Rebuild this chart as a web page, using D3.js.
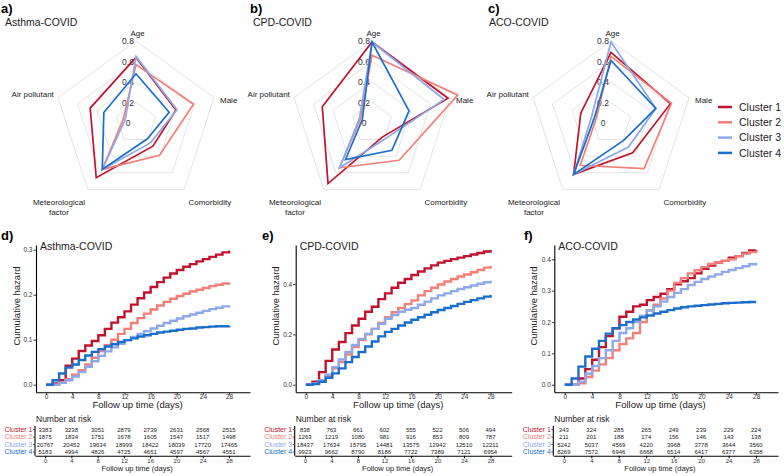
<!DOCTYPE html>
<html>
<head>
<meta charset="utf-8">
<script src="https://cdn.jsdelivr.net/npm/d3@7"></script>
<style>
body { margin: 0; background: #fff; }
svg { font-family: "Liberation Sans", Arial, sans-serif; }
</style>
</head>
<body>
<div id="main"></div>
<script>
const clusters = ["Cluster 1", "Cluster 2", "Cluster 3", "Cluster 4"];
const colors = ["#c0132f", "#f27f78", "#8fa8ea", "#1b6fcb"];
const radarAxes = ["Age", "Male", "Comorbidity", "Meteorological factor", "Air pollutant"];
const radarTicks = [0, 0.2, 0.4, 0.6, 0.8];

// radar values, one row per cluster, in radarAxes order
const radarAsthma = [
  [0.64, 0.41, 0.28, 0.66, 0.47],
  [0.57, 0.59, 0.39, 0.56, 0.13],
  [0.65, 0.42, 0.24, 0.56, 0.11],
  [0.48, 0.34, 0.19, 0.56, 0.33]
];
const radarCPD = [
  [0.79, 0.78, 0.17, 0.73, 0.51],
  [0.66, 0.88, 0.45, 0.54, 0.12],
  [0.79, 0.74, 0.20, 0.54, 0.13],
  [0.79, 0.38, 0.33, 0.44, 0.10]
];
const radarACO = [
  [0.69, 0.61, 0.36, 0.62, 0.31],
  [0.65, 0.62, 0.55, 0.51, 0.15],
  [0.79, 0.46, 0.29, 0.62, 0.20],
  [0.61, 0.46, 0.21, 0.62, 0.17]
];

// cumulative hazard at day 0..28
const days = d3.range(0, 29);
const kmAsthma = [
  [0, 0.003, 0.01, 0.042, 0.058, 0.075, 0.087, 0.097, 0.11, 0.124, 0.138, 0.15, 0.163, 0.178, 0.192, 0.205, 0.217, 0.228, 0.238, 0.247, 0.255, 0.262, 0.268, 0.274, 0.279, 0.284, 0.289, 0.294, 0.298],
  [0, 0, 0.005, 0.012, 0.022, 0.032, 0.045, 0.06, 0.075, 0.088, 0.1, 0.113, 0.124, 0.137, 0.148, 0.158, 0.167, 0.176, 0.184, 0.191, 0.197, 0.202, 0.207, 0.211, 0.215, 0.219, 0.222, 0.225, 0.227],
  [0, 0, 0.004, 0.01, 0.018, 0.028, 0.04, 0.052, 0.064, 0.074, 0.083, 0.091, 0.099, 0.106, 0.113, 0.119, 0.125, 0.131, 0.137, 0.142, 0.147, 0.152, 0.156, 0.16, 0.164, 0.168, 0.171, 0.174, 0.176],
  [0, 0.01, 0.025, 0.038, 0.045, 0.055, 0.065, 0.073, 0.079, 0.085, 0.09, 0.095, 0.099, 0.103, 0.107, 0.11, 0.113, 0.116, 0.118, 0.12, 0.122, 0.124, 0.125, 0.127, 0.128, 0.129, 0.13, 0.13, 0.131]
];
const kmCPD = [
  [0, 0.012, 0.05, 0.095, 0.14, 0.17, 0.205, 0.235, 0.262, 0.29, 0.31, 0.34, 0.363, 0.385, 0.405, 0.42, 0.436, 0.45, 0.462, 0.474, 0.485, 0.492, 0.499, 0.505, 0.511, 0.517, 0.523, 0.529, 0.535],
  [0, 0.005, 0.015, 0.035, 0.065, 0.09, 0.12, 0.15, 0.178, 0.2, 0.222, 0.245, 0.268, 0.288, 0.305, 0.32, 0.335, 0.355, 0.372, 0.385, 0.398, 0.41, 0.42, 0.43, 0.438, 0.447, 0.456, 0.465, 0.473],
  [0, 0.005, 0.018, 0.04, 0.07, 0.1, 0.13, 0.158, 0.182, 0.202, 0.222, 0.242, 0.262, 0.277, 0.29, 0.298, 0.305, 0.318, 0.33, 0.343, 0.355, 0.363, 0.372, 0.38, 0.387, 0.394, 0.401, 0.407, 0.413],
  [0, 0.003, 0.012, 0.028, 0.045, 0.065, 0.09, 0.11, 0.13, 0.152, 0.172, 0.192, 0.21, 0.222, 0.235, 0.247, 0.258, 0.268, 0.278, 0.288, 0.297, 0.305, 0.313, 0.321, 0.329, 0.336, 0.343, 0.35, 0.356]
];
const kmACO = [
  [0, 0, 0.02, 0.05, 0.08, 0.12, 0.155, 0.18, 0.217, 0.233, 0.25, 0.255, 0.27, 0.28, 0.29, 0.305, 0.32, 0.33, 0.34, 0.355, 0.37, 0.38, 0.39, 0.395, 0.405, 0.41, 0.42, 0.428, 0.43],
  [0, 0, 0.005, 0.025, 0.045, 0.065, 0.085, 0.11, 0.13, 0.148, 0.165, 0.2, 0.238, 0.255, 0.275, 0.3, 0.325, 0.34, 0.355, 0.365, 0.375, 0.385, 0.39, 0.395, 0.4, 0.41, 0.418, 0.423, 0.428],
  [0, 0, 0.01, 0.035, 0.06, 0.085, 0.11, 0.14, 0.165, 0.18, 0.2, 0.22, 0.237, 0.25, 0.265, 0.28, 0.293, 0.305, 0.318, 0.328, 0.337, 0.345, 0.352, 0.36, 0.366, 0.372, 0.378, 0.384, 0.389],
  [0, 0.02, 0.058, 0.09, 0.115, 0.14, 0.163, 0.18, 0.19, 0.2, 0.208, 0.215, 0.221, 0.227, 0.233, 0.238, 0.243, 0.247, 0.25, 0.252, 0.254, 0.256, 0.258, 0.26, 0.261, 0.262, 0.263, 0.264, 0.264]
];

// number at risk
const riskDays = [0, 4, 8, 12, 16, 20, 24, 28];
const riskAsthma = [
  [3383, 3238, 3051, 2879, 2739, 2631, 2568, 2515],
  [1875, 1834, 1751, 1678, 1605, 1547, 1517, 1498],
  [20767, 20452, 19634, 18999, 18422, 18039, 17720, 17465],
  [5183, 4994, 4826, 4725, 4651, 4597, 4567, 4551]
];
const riskCPD = [
  [838, 763, 661, 602, 555, 522, 506, 494],
  [1263, 1219, 1080, 981, 916, 853, 809, 787],
  [18437, 17634, 15795, 14481, 13575, 12942, 12510, 12211],
  [9923, 9662, 8790, 8186, 7722, 7389, 7121, 6954]
];
const riskACO = [
  [343, 324, 285, 265, 249, 239, 229, 224],
  [211, 201, 188, 174, 156, 146, 143, 138],
  [5242, 5037, 4569, 4220, 3968, 3778, 3644, 3560],
  [8269, 7572, 6946, 6668, 6514, 6417, 6377, 6358]
];

const width = 784, height = 476;
const svg = d3.select("#main").append("svg")
  .attr("width", width)
  .attr("height", height);

// ---------- radar charts ----------
const R = 82;
const rScale = d3.scaleLinear().domain([0, 0.8]).range([0, R]);
const angle = i => i * 2 * Math.PI / radarAxes.length;
// label offsets, in units of R
const labelPos = [[0.02, -1.1], [1.13, -0.28], [0.9, 0.96], [-0.94, 0.96], [-1.26, -0.35]];

const radarPanels = [
  {letter: "a)", title: "Asthma-COVID", lx: 1, tx: 5, cx: 136, data: radarAsthma},
  {letter: "b)", title: "CPD-COVID", lx: 250, tx: 253, cx: 372, data: radarCPD},
  {letter: "c)", title: "ACO-COVID", lx: 488, tx: 489, cx: 611, data: radarACO}
];

radarPanels.forEach(p => {
  const cy = 123;
  svg.append("text").attr("x", p.lx).attr("y", 13)
    .attr("font-size", 13).attr("font-weight", "bold").text(p.letter);
  svg.append("text").attr("x", p.tx).attr("y", 25.5)
    .attr("font-size", 10.5).attr("fill", "#222").text(p.title);

  const g = svg.append("g").attr("transform", `translate(${p.cx},${cy})`);

  const ring = d3.lineRadial()
    .angle((d, i) => angle(i))
    .radius(d => rScale(d))
    .curve(d3.curveLinearClosed);

  g.selectAll(".grid")
    .data(radarTicks.slice(1))
    .enter()
    .append("path")
    .attr("d", v => ring(radarAxes.map(() => v)))
    .attr("fill", "none")
    .attr("stroke", "#dcdcdc")
    .attr("stroke-width", 0.8);

  g.selectAll(".tick")
    .data(radarTicks)
    .enter()
    .append("text")
    .attr("x", -8)
    .attr("y", v => -rScale(v) + 3.2)
    .attr("text-anchor", "middle")
    .attr("font-size", 8.5)
    .attr("fill", "#333")
    .text(v => v === 0 ? "0" : v.toFixed(1));

  g.selectAll(".series")
    .data(p.data)
    .enter()
    .append("path")
    .attr("d", d => ring(d))
    .attr("fill", "none")
    .attr("stroke", (d, i) => colors[i])
    .attr("stroke-width", 1.7);

  radarAxes.forEach((name, i) => {
    const t = g.append("text")
      .attr("x", labelPos[i][0] * R)
      .attr("y", labelPos[i][1] * R + 3)
      .attr("text-anchor", "middle")
      .attr("font-size", 8)
      .attr("fill", "#222");
    if (name === "Meteorological factor") {
      t.append("tspan").attr("x", labelPos[i][0] * R).text("Meteorological");
      t.append("tspan").attr("x", labelPos[i][0] * R).attr("dy", 10.5).text("factor");
    } else {
      t.text(name);
    }
  });
});

// legend
const legend = svg.append("g").attr("transform", "translate(718,107)");
clusters.forEach((c, i) => {
  legend.append("line")
    .attr("x1", 0).attr("x2", 14)
    .attr("y1", i * 15.3).attr("y2", i * 15.3)
    .attr("stroke", colors[i]).attr("stroke-width", 2.5);
  legend.append("text")
    .attr("x", 21).attr("y", i * 15.3 + 3.8)
    .attr("font-size", 10.5).attr("fill", "#222")
    .text(c);
});

// ---------- cumulative hazard ----------
const kmTop = 245, kmBottom = 392.3;
const xDomain = [-1.54, 31.2];
const kmPanels = [
  {letter: "d)", lx: 1, title: "Asthma-COVID", left: 36, right: 250, yDom: [-0.0169, 0.3104], yTicks: [0, 0.1, 0.2, 0.3], ylabX: 16, data: kmAsthma, risk: riskAsthma},
  {letter: "e)", lx: 262, title: "CPD-COVID", left: 295.7, right: 511.7, yDom: [-0.030, 0.555], yTicks: [0, 0.2, 0.4], ylabX: 275, data: kmCPD, risk: riskCPD},
  {letter: "f)", lx: 524, title: "ACO-COVID", left: 554.3, right: 778, yDom: [-0.024, 0.4456], yTicks: [0, 0.1, 0.2, 0.3, 0.4], ylabX: 533, data: kmACO, risk: riskACO}
];

kmPanels.forEach(p => {
  const x = d3.scaleLinear().domain(xDomain).range([p.left, p.right]);
  const y = d3.scaleLinear().domain(p.yDom).range([kmBottom, kmTop]);

  svg.append("text").attr("x", p.lx).attr("y", 239.5)
    .attr("font-size", 13).attr("font-weight", "bold").text(p.letter);

  const yAxis = svg.append("g")
    .attr("transform", `translate(${p.left},0)`)
    .call(d3.axisLeft(y).tickValues(p.yTicks).tickFormat(d3.format(".1f")).tickSize(2.5).tickSizeOuter(0));
  const xAxis = svg.append("g")
    .attr("transform", `translate(0,${kmBottom})`)
    .call(d3.axisBottom(x).tickValues(riskDays).tickSize(2.5).tickSizeOuter(0));
  [yAxis, xAxis].forEach(a => {
    a.selectAll("text").attr("font-size", 6.5).attr("fill", "#333").attr("font-family", null);
    a.select(".domain").attr("stroke-width", 1.1);
    a.selectAll(".tick line").attr("stroke", "#333");
  });
  yAxis.selectAll("text").attr("x", -3.5);
  xAxis.selectAll("text").attr("y", 2.2);

  const line = d3.line()
    .x((d, i) => x(days[i]))
    .y(d => y(d))
    .curve(d3.curveStepAfter);

  svg.append("g").selectAll("path")
    .data(p.data)
    .enter()
    .append("path")
    .attr("d", d => line(d))
    .attr("fill", "none")
    .attr("stroke", (d, i) => colors[i])
    .attr("stroke-width", 2.4);

  svg.append("text").attr("x", p.left + 4).attr("y", 250)
    .attr("font-size", 10.5).attr("fill", "#222").text(p.title);

  svg.append("text")
    .attr("transform", `translate(${p.ylabX},306) rotate(-90)`)
    .attr("text-anchor", "middle")
    .attr("dominant-baseline", "central")
    .attr("font-size", 9.5).attr("fill", "#222")
    .text("Cumulative hazard");

  svg.append("text")
    .attr("x", (x(0) + x(28)) / 2).attr("y", 408)
    .attr("text-anchor", "middle")
    .attr("font-size", 9.5).attr("fill", "#222")
    .text("Follow up time (days)");

  // risk table
  const tLeft = p.left - 1;
  const tBottom = 455.8;
  const rowY = d3.scalePoint().domain(clusters).range([429.6, 452]);

  svg.append("text").attr("x", tLeft + 1).attr("y", 421.5)
    .attr("font-size", 8.5).attr("fill", "#222").text("Number at risk");

  svg.append("line")
    .attr("x1", tLeft).attr("x2", tLeft)
    .attr("y1", 426).attr("y2", tBottom)
    .attr("stroke", "#000").attr("stroke-width", 1.1);

  const tx = d3.scaleLinear().domain(xDomain).range([tLeft, p.right]);
  const tAxis = svg.append("g")
    .attr("transform", `translate(0,${tBottom})`)
    .call(d3.axisBottom(tx).tickValues(riskDays).tickSize(2.5).tickSizeOuter(0));
  tAxis.selectAll("text").attr("font-size", 6).attr("fill", "#333").attr("y", 3).attr("font-family", null);
  tAxis.select(".domain").attr("stroke-width", 1.1);

  clusters.forEach((c, i) => {
    svg.append("line")
      .attr("x1", tLeft - 2).attr("x2", tLeft)
      .attr("y1", rowY(c)).attr("y2", rowY(c))
      .attr("stroke", "#333").attr("stroke-width", 0.8);
    svg.append("text")
      .attr("x", tLeft - 2.5).attr("y", rowY(c) + 2.4)
      .attr("text-anchor", "end")
      .attr("font-size", 7).attr("fill", colors[i])
      .text(c);
    svg.append("g").selectAll("text")
      .data(p.risk[i])
      .enter()
      .append("text")
      .attr("x", (d, j) => tx(riskDays[j]))
      .attr("y", rowY(c) + 2.2)
      .attr("text-anchor", "middle")
      .attr("font-size", 6).attr("fill", "#222")
      .text(d => d);
  });

  svg.append("text")
    .attr("x", (tx(0) + tx(28)) / 2).attr("y", 471)
    .attr("text-anchor", "middle")
    .attr("font-size", 7.5).attr("fill", "#222")
    .text("Follow up time (days)");
});
</script>
</body>
</html>
